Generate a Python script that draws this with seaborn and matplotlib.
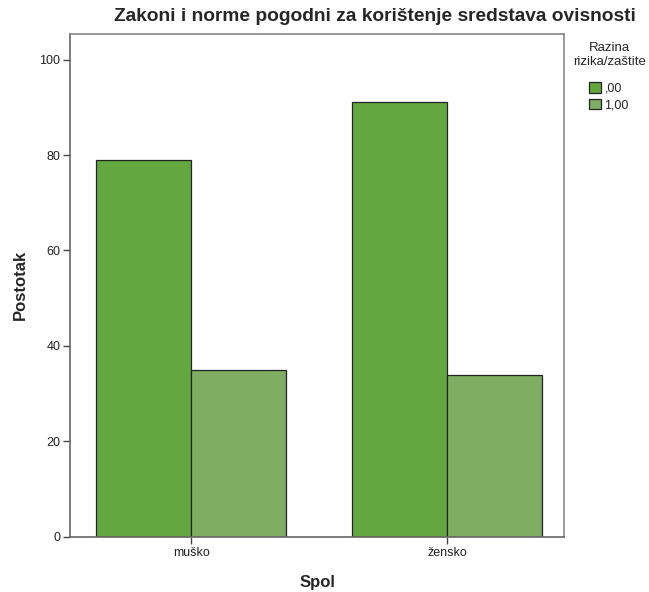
import pandas as pd
import matplotlib.pyplot as plt
import seaborn as sns

# data
spol = ['muško', 'žensko']
razine = [',00', '1,00']
postotak_00 = [79, 91]
postotak_100 = [35, 34]

df = pd.DataFrame({
    'Spol': spol * 2,
    'Razina': [razine[0]] * 2 + [razine[1]] * 2,
    'Postotak': postotak_00 + postotak_100,
})

sns.set_style('white')
plt.rcParams['font.family'] = ['Liberation Sans', 'DejaVu Sans']

fig = plt.figure(figsize=(6.49, 5.92), dpi=100)
ax = fig.add_axes([0.108, 0.093, 0.761, 0.85])

palette = {',00': '#62a83e', '1,00': '#7fae62'}
sns.barplot(data=df, x='Spol', y='Postotak', hue='Razina', order=spol,
            hue_order=razine, palette=palette, width=0.742, saturation=1,
            edgecolor='#222222', linewidth=0.9, ax=ax)

ax.set_ylim(0, 105.4)
ax.set_xlim(-0.473, 1.457)
ax.set_yticks([0, 20, 40, 60, 80, 100])
ax.tick_params(axis='both', direction='out', length=5, width=1,
               color='#444444', labelsize=9, labelcolor='#222222', pad=2,
               left=True, bottom=True)
for name, s in ax.spines.items():
    s.set_linewidth(1.2)
    s.set_color('#666666' if name in ('left', 'bottom') else '#888888')

ax.set_xlabel('Spol', fontsize=12, fontweight='bold', labelpad=12)
ax.set_ylabel('Postotak', fontsize=12, fontweight='bold', labelpad=8)
ax.set_title('Zakoni i norme pogodni za korištenje sredstava ovisnosti',
             fontsize=13.8, fontweight='bold', x=0.617, pad=9)

leg = ax.legend(title='Razina\nrizika/zaštite', loc='upper left',
                bbox_to_anchor=(1.0, 1.0), frameon=False, fontsize=9,
                title_fontsize=9.5, handlelength=0.9, handleheight=0.9,
                handletextpad=0.3, borderaxespad=0.4, labelspacing=0.35,
                borderpad=0.3)
leg.get_title().set_multialignment('center')
leg._legend_box.sep = 10

fig.savefig('out.png', dpi=100)
